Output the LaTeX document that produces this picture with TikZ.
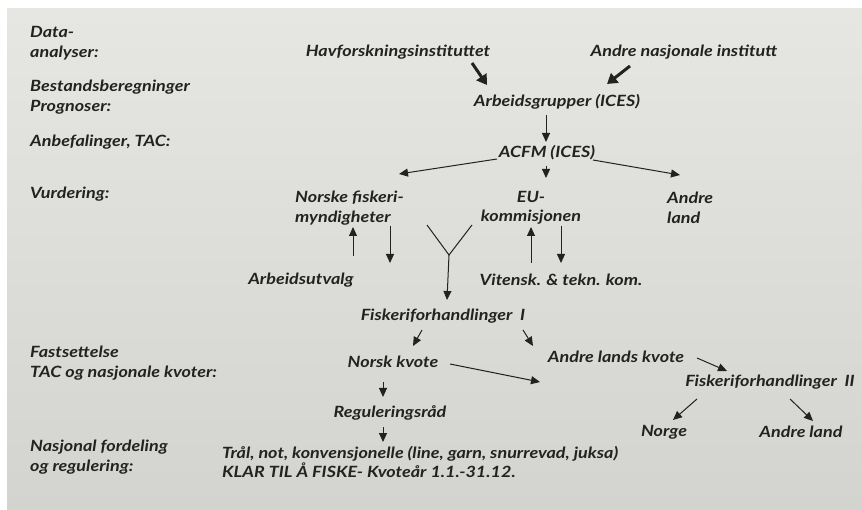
\documentclass[tikz,border=0pt]{standalone}
\usepackage{fontspec}
\setmainfont{Lato}[FakeStretch=1.16]
\usetikzlibrary{arrows.meta}
\definecolor{ink}{RGB}{34,34,34}
\definecolor{panelA}{RGB}{230,230,226}
\definecolor{panelM}{RGB}{226,226,222}
\definecolor{panelB}{RGB}{211,211,207}
\newcommand\dfont{\fontsize{15.5}{19.5}\selectfont\bfseries\itshape}
\begin{document}
\begin{tikzpicture}[x=1pt,y=-1pt,
  txt/.style={inner sep=0pt, font=\dfont, text=ink},
  lbl/.style={txt, anchor=west, align=left},
  arr/.style={draw=ink, line width=1pt, -{Triangle[length=9pt,width=8pt]}},
  bigarr/.style={draw=ink, line width=3pt, -{Triangle[length=10pt,width=12pt]}},
  fork/.style={draw=ink, line width=1pt}]
\useasboundingbox (0,0) rectangle (862,510);
\fill[white] (0,0) rectangle (862,510);
\shade[top color=panelA, middle color=panelM, bottom color=panelB] (7,9) rectangle (862,510);
% left labels
\node[lbl] (ldata) at (30,43) {Data-\\analyser:};
\node[lbl] (lbest) at (30,97) {Bestandsberegninger\\Prognoser:};
\node[lbl] (lanb) at (30,142) {Anbefalinger, TAC:};
\node[lbl] (lvur) at (30,194) {Vurdering:};
\node[lbl] (lfast) at (30,363) {Fastsettelse\\TAC og nasjonale kvoter:};
\node[lbl] (lnas) at (30,457) {Nasjonal fordeling\\og regulering:};
% main nodes
\node[txt] (hav) at (398,52) {Havforskningsinstituttet};
\node[txt] (andni) at (684,52) {Andre nasjonale institutt};
\node[txt] (arb) at (557,102) {Arbeidsgrupper (ICES)};
\node[txt] (acfm) at (547,153) {ACFM (ICES)};
\node[lbl] (norske) at (295,208) {Norske fiskeri-\\myndigheter};
\node[txt, align=center] (eu) at (531,208) {EU-\\kommisjonen};
\node[lbl] (andreL) at (667,208) {Andre\\land};
\node[txt] (arbutv) at (301,280) {Arbeidsutvalg};
\node[txt] (vit) at (561,280) {Vitensk. \& tekn. kom.};
\node[txt] (fisk1) at (443,316) {Fiskeriforhandlinger\enspace I};
\node[txt] (norsk) at (393,362) {Norsk kvote};
\node[txt] (andrelk) at (616,357) {Andre lands kvote};
\node[txt] (fisk2) at (770,382) {Fiskeriforhandlinger\enspace II};
\node[txt] (norge) at (664,432) {Norge};
\node[txt] (andreland) at (801,432) {Andre land};
\node[txt] (regul) at (390,413) {Reguleringsråd};
\node[lbl] (tral) at (222,462) {Trål, not, konvensjonelle (line, garn, snurrevad, juksa)\\KLAR TIL Å FISKE- Kvoteår 1.1.-31.12.};
% free points
\coordinate (yl) at (427,225);
\coordinate (yr) at (472,225);
\coordinate (yfork) at (449,255);
\coordinate (nkend) at (540,382);
% connectors
\draw[bigarr] ([shift={(74,11)}]hav.center) -- ([shift={(-70,-17)}]arb.center);
\draw[bigarr] ([shift={(-54,14)}]andni.center) -- ([shift={(50,-18)}]arb.center);
\draw[arr] ([shift={(-11,13)}]arb.center) -- ([shift={(-1,-11)}]acfm.center);
\draw[arr] ([shift={(-1,13)}]acfm.center) -- ([shift={(15,-30)}]eu.center);
\draw[arr] ([shift={(-50,6)}]acfm.center) -- ([shift={(104,-34)}]norske.west);
\draw[arr] ([shift={(46,7)}]acfm.center) -- ([shift={(13,-33)}]andreL.west);
\draw[arr] ([shift={(52,-24)}]arbutv.center) -- ([shift={(58,19)}]norske.west);
\draw[arr] ([shift={(95,18)}]norske.west) -- ([shift={(89,-17)}]arbutv.center);
\draw[fork] (yl) -- (yfork) -- (yr);
\draw[arr] (yfork) -- ([shift={(4,-16)}]fisk1.center);
\draw[arr] ([shift={(-30,-17)}]vit.center) -- ([shift={(0,19)}]eu.center);
\draw[arr] ([shift={(30,18)}]eu.center) -- ([shift={(0,-17)}]vit.center);
\draw[arr] ([shift={(-21,14)}]fisk1.center) -- ([shift={(20,-16)}]norsk.center);
\draw[arr] ([shift={(80,14)}]fisk1.center) -- ([shift={(-83,-11)}]andrelk.center);
\draw[arr] ([shift={(57,2)}]norsk.center) -- (nkend);
\draw[arr] ([shift={(81,1)}]andrelk.center) -- ([shift={(-43,-11)}]fisk2.center);
\draw[arr] ([shift={(-73,17)}]fisk2.center) -- ([shift={(9,-12)}]norge.center);
\draw[arr] ([shift={(20,17)}]fisk2.center) -- ([shift={(12,-11)}]andreland.center);
\draw[arr] ([shift={(-10,20)}]norsk.center) -- ([shift={(-7,-16)}]regul.center);
\draw[arr] ([shift={(-7,14)}]regul.center) -- ([shift={(161,-20)}]tral.west);
\end{tikzpicture}
\end{document}
